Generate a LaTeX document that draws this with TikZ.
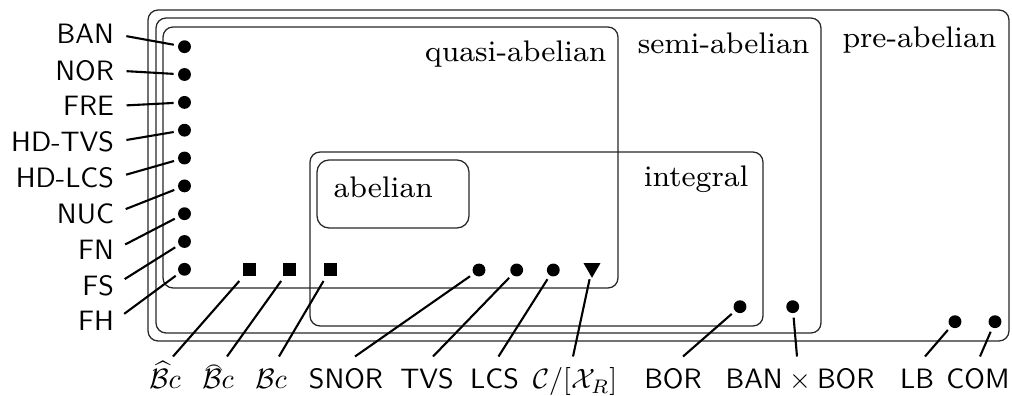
\documentclass[tikz,border=0pt]{standalone}
\usepackage{amsmath}
\usetikzlibrary{calc,shapes.geometric}
\newcommand{\myrgn}[1]{\scalebox{1.33}{\fontsize{8}{9.6}\selectfont #1}}
\begin{document}
\begin{tikzpicture}[x=0.357pt,y=-0.357pt,
  region/.style={draw=black!85, line width=0.45pt, rounded corners=3.6pt},
  rlab/.style={inner sep=0pt, anchor=base east},
  cat/.style={inner sep=0pt, font=\fontsize{10}{12}\sffamily},
  lcat/.style={cat, anchor=east},
  bcat/.style={cat, anchor=base, text height=11.4pt},
  dotc/.style={circle, fill=black, inner sep=0pt, minimum size=4.6pt, outer sep=1.6pt},
  dots/.style={rectangle, fill=black, inner sep=0pt, minimum size=4.64pt, outer sep=1.6pt},
  dott/.style={regular polygon, regular polygon sides=3, shape border rotate=180, fill=black, inner sep=0pt, minimum size=7pt, outer sep=1pt},
  conn/.style={line width=0.75pt},
  lconn/.style={conn, shorten <=4.3pt},
]
\useasboundingbox (0,0) rectangle (1012,396);

% regions
\draw[region] (148,10) rectangle (1009,341);
\draw[region] (156,18) rectangle (821,333);
\draw[region] (163,27) rectangle (618,288);
\draw[region] (310,152) rectangle (763,326);
\draw[region, rounded corners=4.3pt] (317,160) rectangle (469,228);

\node[rlab] (rpre) at (997,47.5) {\myrgn{pre-abelian}};
\node[rlab] (rsemi) at (810,54) {\myrgn{semi-abelian}};
\node[rlab] (rquasi) at (607,62) {\myrgn{quasi-abelian}};
\node[rlab] (rint) at (749,187) {\myrgn{integral}};
\node[inner sep=0pt, anchor=base west] (rab) at (333,198) {\myrgn{abelian}};

% left dots and labels
\foreach \i/\yd/\yl/\t in {1/46.7/34/BAN, 2/74.5/70.5/NOR, 3/102.4/106/FRE, 4/130.2/142/HD-TVS, 5/158/178/HD-LCS, 6/185.9/213.5/NUC, 7/213.7/250/FN, 8/241.5/285.5/FS, 9/269.3/321/FH}{
  \node[dotc] (d\i) at (184.5,\yd) {};
  \node[lcat] (l\i) at (114.5,\yl) {\t};
  \draw[lconn] (l\i.east) -- (d\i);
}

% bottom dots
\node[dots] (s1) at (249,270) {};
\node[dots] (s2) at (289,270) {};
\node[dots] (s3) at (330,270) {};
\node[dotc] (c1) at (479,270) {};
\node[dotc] (c2) at (516.7,270) {};
\node[dotc] (c3) at (553.3,270) {};
\node[dott] (tr) at (592,268) {};
\node[dotc] (pbor) at (740,306.7) {};
\node[dotc] (pbb) at (792.7,306.7) {};
\node[dotc] (plb) at (955,321.7) {};
\node[dotc] (pcom) at (995,321.7) {};

% bottom labels
\node[bcat] (b1) at (165,389) {$\widehat{\mathcal{B}}c$};
\node[bcat] (b2) at (218,389) {\rlap{\kern0.7pt\raisebox{5pt}{\scalebox{0.68}[0.9]{$\frown$}}}$\mathcal{B}c$};
\node[bcat] (b3) at (271,389) {$\mathcal{B}c$};
\node[bcat] (bsnor) at (346,389) {SNOR};
\node[bcat] (btvs) at (427,389) {TVS};
\node[bcat] (blcs) at (494.5,389) {LCS};
\node[bcat] (bcx) at (575,389) {$\mathcal{C}/[\mathcal{X}_R]$};
\node[bcat] (bbor) at (673,389) {BOR};
\node[bcat] (bbb) at (800,389) {BAN${}\times{}$BOR};
\node[bcat] (blb) at (917,389) {LB};
\node[bcat] (bcom) at (978,389) {COM};

\draw[conn] ($(b1.north)+(8,0)$) -- (s1);
\draw[conn] ($(b2.north)+(9,0)$) -- (s2);
\draw[conn] ($(b3.north)+(8,0)$) -- (s3);
\draw[conn] ($(bsnor.north)+(9,0)$) -- (c1);
\draw[conn] ($(btvs.north)+(6,0)$) -- (c2);
\draw[conn] ($(blcs.north)+(4,0)$) -- (c3);
\draw[conn] ($(bcx.north)+(-2,0)$) -- (tr);
\draw[conn] ($(bbor.north)+(10,0)$) -- (pbor);
\draw[conn] ($(bbb.north)+(-3,0)$) -- (pbb);
\draw[conn] ($(blb.north)+(8,0)$) -- (plb);
\draw[conn] ($(bcom.north)+(2,0)$) -- (pcom);
\end{tikzpicture}
\end{document}
